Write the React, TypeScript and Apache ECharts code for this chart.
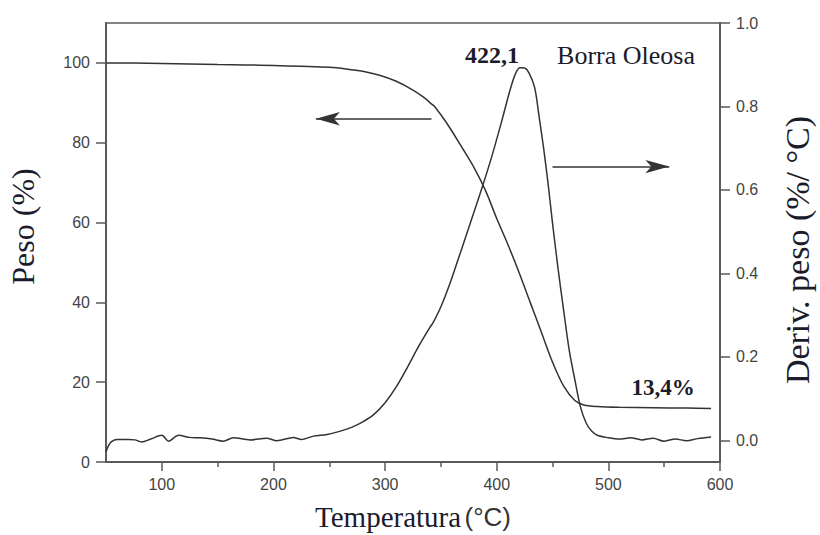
import React, { useEffect, useRef } from "react";
import * as echarts from "echarts";

// Temperature (°C) and weight (%) — TG curve
const tgTemp = [50, 75, 100, 125, 150, 175, 200, 225, 250, 265, 280, 295, 310, 325, 335, 342, 344, 355, 370, 380, 390, 400, 410, 420, 430, 440, 450, 460, 470, 478, 490, 510, 540, 570, 592];
const tgWeight = [100, 99.95, 99.85, 99.75, 99.6, 99.5, 99.35, 99.15, 98.9, 98.5, 97.9, 96.9, 95.4, 93.2, 91.3, 89.6, 89.2, 85, 78.3, 73.6, 68.0, 61.0, 54.5, 47.5, 40.0, 32.5, 25.0, 19.0, 15.4, 14.3, 13.9, 13.7, 13.6, 13.5, 13.4];

// Temperature (°C) and derivative weight (%/°C) — DTG curve
const dtgTemp = [50, 52, 55, 60, 70, 76, 82, 90, 100, 106, 115, 125, 134, 145, 155, 164, 179, 194, 203, 218, 225, 236, 248, 260, 270, 280, 290, 300, 310, 320, 330, 340, 343, 350, 358, 365, 375, 385, 395, 405, 412, 417, 421, 425, 429, 434, 438, 442, 446, 450, 455, 460, 465, 470, 475, 480, 485, 490, 500, 510, 520, 530, 540, 550, 560, 570, 580, 592];
const dtgDeriv = [-0.028, -0.014, -0.003, 0.002, 0.002, 0.001, -0.004, 0.003, 0.012, -0.002, 0.012, 0.007, 0.006, 0.003, -0.002, 0.006, 0.001, 0.005, -0.001, 0.007, 0.002, 0.01, 0.014, 0.022, 0.031, 0.044, 0.062, 0.09, 0.128, 0.175, 0.225, 0.27, 0.282, 0.32, 0.375, 0.43, 0.51, 0.59, 0.675, 0.77, 0.84, 0.88, 0.893, 0.892, 0.88, 0.845, 0.775, 0.7, 0.615, 0.52, 0.41, 0.31, 0.215, 0.145, 0.08, 0.042, 0.022, 0.012, 0.006, 0.003, 0.006, 0.001, 0.005, -0.002, 0.003, -0.001, 0.004, 0.008];

// Axis ticks
const xMajorTicks = [100, 200, 300, 400, 500, 600];
const xMinorTicks = [150, 250, 350, 450, 550];
const leftTicks = [0, 20, 40, 60, 80, 100];
const rightTicks = [0, 0.2, 0.4, 0.6, 0.8, 1.0];

// Arrow annotations (data coordinates)
const leftArrow = { from: [341.5, 86], to: [238, 86] };
const rightArrow = { from: [450, 0.656], to: [554.6, 0.656] };

const AXIS_COLOR = "#5a5a5a";
const LINE_COLOR = "#333333";
const TEXT_COLOR = "#1b1b2b";
const SANS = "'Liberation Sans', Arial, sans-serif";
const SERIF = "'Liberation Serif', 'Times New Roman', serif";

export default function App() {
  const ref = useRef<HTMLDivElement>(null);

  useEffect(() => {
    document.body.style.margin = "0";
    const chart = echarts.init(ref.current!, undefined, { renderer: "svg" });

    const tickLabel = { color: "#444", fontSize: 16, fontFamily: SANS };
    const arrowMark = (a: { from: number[]; to: number[] }) => ({
      silent: true,
      symbol: ["none", "arrow"],
      label: { show: false },
      lineStyle: { color: LINE_COLOR, width: 1.5, type: "solid" },
      emphasis: { disabled: true },
      data: [[
        { coord: a.from, symbol: "none" },
        { coord: a.to, symbol: "arrow", symbolSize: [10, 24] },
      ]],
    });

    chart.setOption({
      animation: false,
      backgroundColor: "#ffffff",
      grid: {
        left: 106,
        right: 100,
        top: 23,
        bottom: 73,
        outerBoundsMode: "none",
        containLabel: false,
        show: true,
        borderColor: AXIS_COLOR,
        borderWidth: 1.5,
        backgroundColor: "transparent",
      },
      xAxis: [
        {
          type: "value",
          min: 50,
          max: 600,
          position: "bottom",
          axisLine: { show: true, onZero: false, lineStyle: { color: AXIS_COLOR, width: 2 } },
          axisTick: { show: true, customValues: xMajorTicks, length: 9, lineStyle: { color: AXIS_COLOR, width: 1.5 } },
          axisLabel: { ...tickLabel, customValues: xMajorTicks, margin: 14 },
          splitLine: { show: false },
          name: "{a|Temperatura} {b|(°C)}",
          nameLocation: "middle",
          nameGap: 40,
          nameTextStyle: {
            rich: {
              a: { fontFamily: SERIF, fontSize: 29, color: TEXT_COLOR },
              b: { fontFamily: SANS, fontSize: 26, color: "#333" },
            },
          },
        },
        {
          type: "value",
          min: 50,
          max: 600,
          position: "bottom",
          axisLine: { show: false, onZero: false },
          axisTick: { show: true, customValues: xMinorTicks, length: 5, lineStyle: { color: AXIS_COLOR, width: 1.5 } },
          axisLabel: { show: false },
          splitLine: { show: false },
        },
      ],
      yAxis: [
        {
          type: "value",
          min: 0,
          max: 110,
          position: "left",
          axisLine: { show: true, onZero: false, lineStyle: { color: AXIS_COLOR, width: 2 } },
          axisTick: { show: true, customValues: leftTicks, length: 10, lineStyle: { color: AXIS_COLOR, width: 1.5 } },
          axisLabel: { ...tickLabel, customValues: leftTicks, margin: 16 },
          splitLine: { show: false },
          name: "Peso (%)",
          nameLocation: "middle",
          nameRotate: 90,
          nameGap: 67,
          nameTextStyle: { fontFamily: SERIF, fontSize: 32, color: TEXT_COLOR, padding: [0, 0, 0, 32] },
        },
        {
          type: "value",
          min: -0.052,
          max: 1.0,
          position: "right",
          axisLine: { show: true, onZero: false, lineStyle: { color: AXIS_COLOR, width: 2 } },
          axisTick: { show: true, customValues: rightTicks, length: 10, lineStyle: { color: AXIS_COLOR, width: 1.5 } },
          axisLabel: {
            ...tickLabel,
            customValues: rightTicks,
            margin: 16,
            formatter: (v: number) => v.toFixed(1),
          },
          splitLine: { show: false },
          name: "Deriv. peso (%/ °C)",
          nameLocation: "middle",
          nameRotate: 90,
          nameGap: 60,
          nameTextStyle: { fontFamily: SERIF, fontSize: 34, color: TEXT_COLOR, padding: [0, 15, 0, 0] },
        },
      ],
      series: [
        {
          name: "TG",
          type: "line",
          xAxisIndex: 0,
          yAxisIndex: 0,
          data: tgTemp.map((t, i) => [t, tgWeight[i]]),
          showSymbol: false,
          smooth: 0.3,
          lineStyle: { color: LINE_COLOR, width: 1.5 },
          itemStyle: { color: LINE_COLOR },
          silent: true,
          markLine: arrowMark(leftArrow),
        },
        {
          name: "DTG",
          type: "line",
          xAxisIndex: 0,
          yAxisIndex: 1,
          data: dtgTemp.map((t, i) => [t, dtgDeriv[i]]),
          showSymbol: false,
          smooth: 0.3,
          lineStyle: { color: LINE_COLOR, width: 1.5 },
          itemStyle: { color: LINE_COLOR },
          silent: true,
          markLine: arrowMark(rightArrow),
        },
      ],
      graphic: [
        {
          type: "text",
          x: 492,
          y: 55,
          style: {
            text: "422,1",
            font: `bold 24px ${SERIF}`,
            fill: TEXT_COLOR,
            textAlign: "center",
            textVerticalAlign: "middle",
          },
        },
        {
          type: "text",
          x: 626,
          y: 55,
          style: {
            text: "Borra Oleosa",
            font: `26px ${SERIF}`,
            fill: TEXT_COLOR,
            textAlign: "center",
            textVerticalAlign: "middle",
          },
        },
        {
          type: "text",
          x: 663,
          y: 387,
          style: {
            text: "13,4%",
            font: `bold 23px ${SERIF}`,
            fill: TEXT_COLOR,
            textAlign: "center",
            textVerticalAlign: "middle",
          },
        },
      ],
    });

    return () => chart.dispose();
  }, []);

  return <div ref={ref} style={{ width: 820, height: 535 }} />;
}
